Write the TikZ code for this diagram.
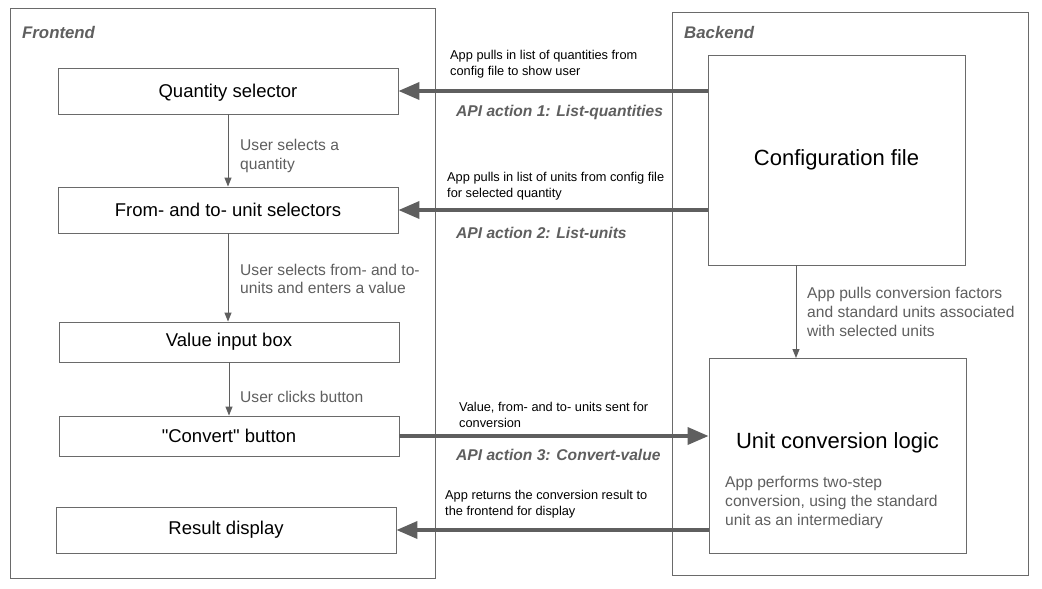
\documentclass[tikz,border=0pt]{standalone}
\usepackage{fontspec}
\setmainfont{Liberation Sans}[Ligatures=TeXOff]
\usetikzlibrary{arrows.meta}
\definecolor{lg}{HTML}{5F5F5F}
\definecolor{bd}{HTML}{6A6A6A}
\begin{document}
\begin{tikzpicture}[x=1pt,y=-1pt,
  frame/.style={draw=bd,line width=0.9pt,inner sep=0pt},
  ubox/.style={draw=bd,line width=0.9pt,minimum width=340pt,inner sep=0pt,font=\fontsize{18.5}{21}\selectfont},
  bbox/.style={draw=bd,line width=0.9pt,minimum width=257pt,inner sep=0pt,font=\fontsize{22}{25}\selectfont},
  thickarr/.style={draw=lg,line width=3.6pt,-{Triangle[length=21pt,width=17pt]}},
  thinarr/.style={draw=lg,line width=1pt,-{Triangle[length=9pt,width=7pt]}},
  glabel/.style={inner sep=0pt,anchor=west,align=left,text=lg,font=\fontsize{15.6}{18.7}\selectfont},
  slabel/.style={inner sep=0pt,anchor=west,align=left,text=black,font=\fontsize{12.8}{16}\selectfont},
  api/.style={inner sep=0pt,anchor=west,text=lg,font=\fontsize{15.6}{18}\selectfont\bfseries\itshape},
  title/.style={inner sep=0pt,anchor=west,text=lg,font=\fontsize{16.8}{19}\selectfont\bfseries\itshape}]
\useasboundingbox[fill=white] (0,0) rectangle (1042,589);
% containers
\node[frame,minimum width=425pt,minimum height=570pt] (fe) at (222.5,293) {};
\node[frame,minimum width=356pt,minimum height=563pt] (be) at (850,293.5) {};
\node[title] (fet) at (22,32) {Frontend};
\node[title] (bet) at (684,32) {Backend};
% frontend boxes
\node[ubox,minimum height=46pt,text depth=0pt] (qs) at (228,91) {Quantity selector};
\node[ubox,minimum height=46pt] (fu) at (228,210) {From- and to- unit selectors};
\node[ubox,minimum height=40pt] (vi) at (229,342) {Value input box};
\node[ubox,minimum height=40pt] (cb) at (229,436) {"Convert" button};
\node[ubox,minimum height=46pt] (rd) at (226,530) {Result display};
% backend boxes
\node[bbox,minimum height=210pt] (cf) at (836.5,160) {Configuration file};
\node[bbox,minimum height=195pt,anchor=north] (uc) at (837.5,358) {};
\node[inner sep=0pt,font=\fontsize{22}{25}\selectfont] (uct) at (837.5,443) {Unit conversion logic};
\node[glabel] (ucd) at (725,502.5) {App performs two-step\\conversion, using the standard\\unit as an intermediary};
% frontend flow
\draw[thinarr] (qs.south) -- (qs.south |- fu.north);
\draw[thinarr] (fu.south) -- (fu.south |- vi.north);
\draw[thinarr] (vi.south) -- (vi.south |- cb.north);
\node[glabel] (l1) at (240,156) {User selects a\\quantity};
\node[glabel] (l2) at (240,279) {User selects from- and to-\\units and enters a value};
\node[glabel] (l3) at (240,397) {User clicks button};
% backend flow
\draw[thinarr] ([xshift=-40.5pt]cf.south) -- ([xshift=-41.5pt]uc.north);
\node[glabel] (l4) at (807,312) {App pulls conversion factors\\and standard units associated\\with selected units};
% API arrows
\draw[thickarr] (cf.west |- qs.east) -- (qs.east);
\draw[thickarr] (cf.west |- fu.east) -- (fu.east);
\draw[thickarr] (cb.east) -- (uc.west |- cb.east);
\draw[thickarr] (uc.west |- rd.east) -- (rd.east);
\node[slabel] (a1) at (450,64.5) {App pulls in list of quantities from\\config file to show user};
\node[api] (p1) at (456,112) {API action 1: List-quantities};
\node[slabel] (a2) at (447,186.5) {App pulls in list of units from config file\\for selected quantity};
\node[api] (p2) at (456,233) {API action 2: List-units};
\node[slabel] (a3) at (459,415) {Value, from- and to- units sent for\\conversion};
\node[api] (p3) at (456,455) {API action 3: Convert-value};
\node[slabel] (a4) at (445,504.5) {App returns the conversion result to\\the frontend for display};
\end{tikzpicture}
\end{document}
